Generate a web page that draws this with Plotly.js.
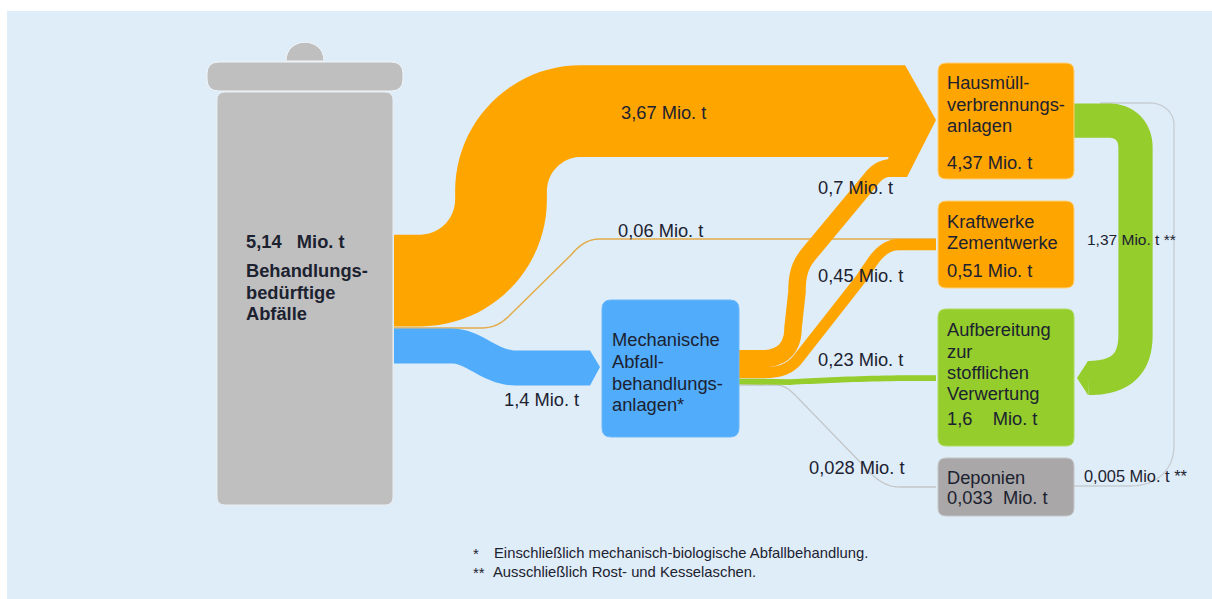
<!DOCTYPE html>
<html><head><meta charset="utf-8">
<script src="https://cdn.plot.ly/plotly-3.0.1.min.js"></script>
<style>html,body{margin:0;padding:0;background:#fff}#c{width:1212px;height:599px}</style>
</head><body><div id="c"></div>
<script>
// ---- data (Mio. t) ----
const flowNames  = ['HMV direkt','Kraftwerke direkt','MBA','MBA zu HMV','MBA zu Kraftwerke','MBA zu Aufbereitung','MBA zu Deponien','HMV zu Aufbereitung','Deponien zu Aufbereitung'];
const flowValues = [3.67, 0.06, 1.4, 0.7, 0.45, 0.23, 0.028, 1.37, 0.005];
const flowSuffix = ['', '', '', '', '', '', '', ' **', ' **'];
const nodeValues = {bin:5.14, hmv:4.37, kw:0.51, auf:1.6, dep:0.033};
const unit = 'Mio. t';
const footnotes = ['Einschließlich mechanisch-biologische Abfallbehandlung.','Ausschließlich Rost- und Kesselaschen.'];

// ---- styling / geometry ----
const PX_PER_MIO = 25, MIN_W = 1.3;
const ORANGE='#FFA500', GREEN='#94CD2C', BLUE='#51ACFB', GREY='#BFBFBF', DGREY='#A9A7A7', BG='#DFEDF8', TEXT='#1c2230';
const flowColors = [ORANGE,'#E3AC4A',BLUE,ORANGE,ORANGE,GREEN,'#C4C6C8',GREEN,'#C6CCD2'];
// routes: [x,y] start, then straight points [x,y] or cubic segments [cx1,cy1,cx2,cy2,x,y]
const routes = [
 [[394,280.5],[420,280.5],[465,280.5,501,244,501,199.5],[501,191],[501,147,537,111,581,111],[905,111]],
 [[394,328],[480,328],[492,328,500,325,510,315],[570,256],[578,247,586,239,600,239],[936,239]],
 [[394,346],[452,346],[474,346,490,368,516,368],[590,368]],
 [[738,358.75],[762,358.75],[783,358.75,793,347,793,328],[797,292],[797,275,800,265,808,255],[872,178],[880,168,888,167,905,167]],
 [[738,372.5],[765,372.5],[780,372.5,790,369,798,359],[860,280],[873,262,880,244.5,900,244.5],[936,244.5]],
 [[738,381.5],[790,382],[830,380,870,378,936,378]],
 [[738,385],[775,385],[785,385,790,390,797,397],[860,462],[872,475,882,487,900,487],[936,487]],
 [[1073,120.5],[1108,120.5],[1125,120.5,1135.5,131,1135.5,148],[1135.5,335],[1135.5,365,1120,378,1088,378]],
 [[1073,486],[1130,486],[1157,486,1174,470,1174,445],[1174,125],[1174,112,1163,103,1150,103],[1100,103]]
];
// order in which flows are stacked (thin lines below the wide bands)
const drawOrder = [8,1,6,0,2,3,4,5,7];
const arrowheads = [
 {c:ORANGE, x:[905,936,907,885,905], y:[65.1,120,177,177,65.1]},
 {c:BLUE,   x:[590,600,590,590],     y:[350.5,367,385.5,350.5]},
 {c:GREEN,  x:[1088,1077,1088,1088], y:[360.9,378,395.1,360.9]}
];
const rects = [ // x0,y0,x1,y1,r,fill,border
 [217,92,393,505,8,GREY,'#E8EEF3'],
 [207,62,403,91,12,GREY,'#F0F5F9'],
 [602,300,739,437,9,BLUE,'#6CB8FA'],
 [938,63,1074,179,8,ORANGE,'#FFD27A'],
 [938,201,1074,288,8,ORANGE,'#FFD27A'],
 [938,309,1074,446,8,GREEN,'#B0DB62'],
 [938,458,1074,516,8,DGREY,'#C6C6C7']
];
function sample(route){
  const xs=[route[0][0]], ys=[route[0][1]];
  for(let i=1;i<route.length;i++){
    const s=route[i], x0=xs[xs.length-1], y0=ys[ys.length-1];
    if(s.length===2){xs.push(s[0]);ys.push(s[1]);continue;}
    for(let k=1;k<=24;k++){
      const t=k/24,u=1-t;
      xs.push(u*u*u*x0+3*u*u*t*s[0]+3*u*t*t*s[2]+t*t*t*s[4]);
      ys.push(u*u*u*y0+3*u*u*t*s[1]+3*u*t*t*s[3]+t*t*t*s[5]);
    }
  }
  return {xs,ys};
}
function rr(x0,y0,x1,y1,r){
  return `M${x0+r},${y0} L${x1-r},${y0} Q${x1},${y0} ${x1},${y0+r} L${x1},${y1-r} Q${x1},${y1} ${x1-r},${y1} L${x0+r},${y1} Q${x0},${y1} ${x0},${y1-r} L${x0},${y0+r} Q${x0},${y0} ${x0+r},${y0} Z`;
}
const de = v => String(v).replace('.',',');

const traces = [];
drawOrder.forEach(i=>{
  const p=sample(routes[i]);
  traces.push({type:'scatter',mode:'lines',name:flowNames[i],x:p.xs,y:p.ys,hoverinfo:'name',showlegend:false,
    line:{color:flowColors[i],width:Math.max(flowValues[i]*PX_PER_MIO,MIN_W),simplify:false}});
});
arrowheads.forEach(a=>traces.push({type:'scatter',mode:'lines',x:a.x,y:a.y,fill:'toself',fillcolor:a.c,line:{color:a.c,width:0},hoverinfo:'skip',showlegend:false}));

const shapes = [
 {type:'rect',xref:'x',yref:'y',x0:7,y0:11,x1:1212,y1:599,fillcolor:BG,line:{width:0},layer:'below'},
 {type:'path',xref:'x',yref:'y',path:'M286,61 C286,36 324,36 324,61 Z',fillcolor:GREY,line:{color:'#F0F5F9',width:1},layer:'above'}
];
rects.forEach(r=>shapes.push({type:'path',xref:'x',yref:'y',path:rr(r[0],r[1],r[2],r[3],r[4]),fillcolor:r[5],line:{color:r[6],width:1},layer:'above'}));

const annotations = [];
function T(x,y,text,size,bold,color){
  annotations.push({xref:'x',yref:'y',x:x-2,y,text:bold?`<b>${text}</b>`:text,showarrow:false,xanchor:'left',yanchor:'middle',align:'left',
    font:{family:'"Liberation Sans",Arial,sans-serif',size:size||18.3,color:color||TEXT}});
}
const lab = i => `${de(flowValues[i])} ${unit}${flowSuffix[i]}`;
T(621,112,lab(0)); T(618,230,lab(1)); T(504,399,lab(2));
T(818,187,lab(3)); T(818,275,lab(4)); T(818,359,lab(5)); T(809,467,lab(6));
T(1087,239,lab(7),15.5); T(1084,476,lab(8),16.4);
T(246,241,`${de(nodeValues.bin)}\u00a0\u00a0 ${unit}`,18.3,true);
T(246,270,'Behandlungs-',18.3,true); T(246,292,'bedürftige',18.3,true); T(246,313,'Abfälle',18.3,true);
T(612,339,'Mechanische'); T(612,361,'Abfall-'); T(612,383,'behandlungs-'); T(612,404,'anlagen*');
T(947,82,'Hausmüll-'); T(947,104,'verbrennungs-'); T(947,125,'anlagen'); T(947,162,`${de(nodeValues.hmv)} ${unit}`);
T(947,221,'Kraftwerke'); T(947,242,'Zementwerke'); T(947,270,`${de(nodeValues.kw)} ${unit}`);
T(947,329,'Aufbereitung'); T(947,351,'zur'); T(947,372,'stofflichen'); T(947,393,'Verwertung'); T(947,418,`${de(nodeValues.auf)}\u00a0\u00a0\u00a0 ${unit}`);
T(947,477,'Deponien'); T(947,497,`${de(nodeValues.dep)}\u00a0\u00a0${unit}`);
T(473,554,'*',14.8); T(494,553,footnotes[0],14.8);
T(473,573,'**',14.8); T(493,572,footnotes[1],14.8);

Plotly.newPlot('c',traces,{
  width:1212,height:599,margin:{l:0,r:0,t:0,b:0,pad:0},showlegend:false,
  paper_bgcolor:'#fff',plot_bgcolor:'#fff',
  xaxis:{range:[0,1212],visible:false,fixedrange:true},
  yaxis:{range:[599,0],visible:false,fixedrange:true},
  shapes,annotations
},{displayModeBar:false,staticPlot:true});
</script></body></html>
